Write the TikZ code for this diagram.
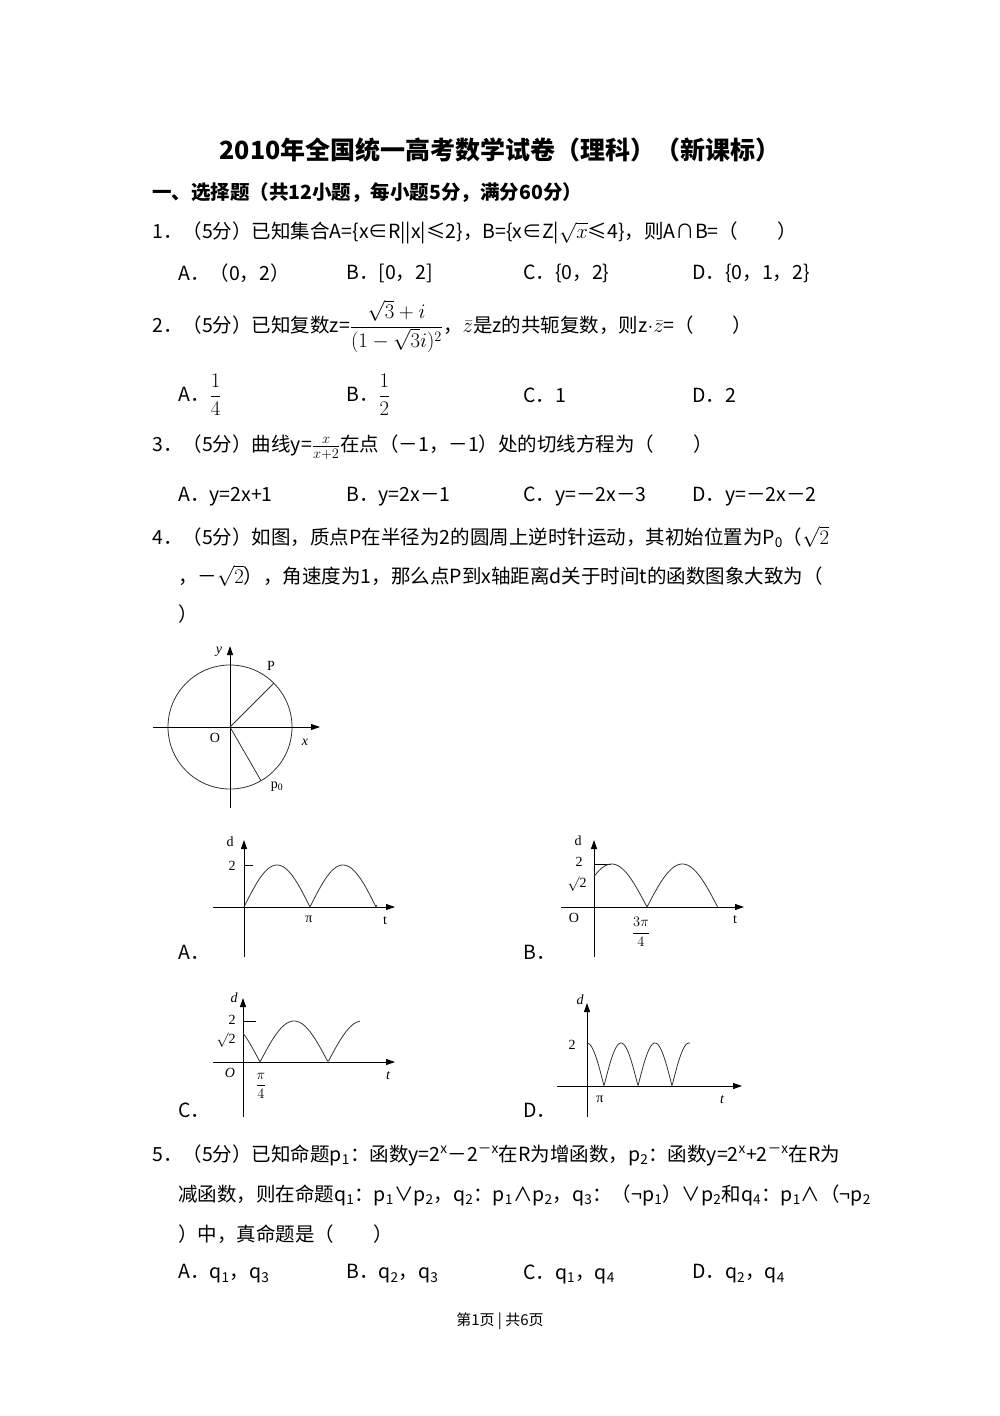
\documentclass[tikz,border=0pt]{standalone}
\usepackage{fontspec}
\setmainfont{Noto Sans CJK SC}
\newfontfamily\tms{Liberation Serif}
\usetikzlibrary{arrows.meta}
\tikzset{
 txt/.style={anchor=west,inner sep=0pt,font=\fontsize{19.5}{22}\selectfont},
 ax/.style={-{Triangle[length=9pt,width=6pt]},line width=0.9pt},
 crv/.style={line width=0.8pt,gray!40!black},
 gl/.style={inner sep=0pt,font=\tms\fontsize{14}{15}\selectfont},
 gli/.style={inner sep=0pt,font=\tms\itshape\fontsize{14}{15}\selectfont},
}
\newcommand{\sbs}[1]{\textsubscript{#1}}
\newcommand{\sps}[1]{\textsuperscript{#1}}
\newcommand{\myfrac}[2]{{\displaystyle\frac{#1}{#2}}}
\begin{document}
\begin{tikzpicture}[x=1pt,y=-1pt]
\useasboundingbox (0,0) rectangle (1000,1416);
\fill[white] (0,0) rectangle (1000,1416);
\node[inner sep=0pt,font=\bfseries\fontsize{25}{28}\selectfont] (title) at (500,150) {2010年全国统一高考数学试卷（理科）（新课标）};
\node[txt,font=\bfseries\fontsize{19.5}{22}\selectfont] (sec) at (152,193) {一、选择题（共12小题，每小题5分，满分60分）};
% Q1
\node[txt] (q1) at (152,233) {1．（5分）已知集合A=\{x∈R||x|≤2\}，B=\{x∈Z|$\sqrt{x}$≤4\}，则A∩B=（\hspace{2em}）};
\node[txt] (q1a) at (178,273) {A．（0，2）};
\node[txt] (q1b) at (346,273) {B．[0，2]};
\node[txt] (q1c) at (523,273) {C．\{0，2\}};
\node[txt] (q1d) at (692,273) {D．\{0，1，2\}};
% Q2
\node[txt] (q2) at (152,326) {2．（5分）已知复数z=$\myfrac{\sqrt{3}+i}{(1-\sqrt{3}i)^{2}}$，$\bar{z}$是z的共轭复数，则z$\cdot\bar{z}$=（\hspace{2em}）};
\node[txt] (q2a) at (178,395) {A．$\myfrac{1}{4}$};
\node[txt] (q2b) at (346,395) {B．$\myfrac{1}{2}$};
\node[txt] (q2c) at (523,395) {C．1};
\node[txt] (q2d) at (692,395) {D．2};
% Q3
\node[txt] (q3) at (152,447) {3．（5分）曲线y=$\frac{x}{x+2}$在点（－1，－1）处的切线方程为（\hspace{2em}）};
\node[txt] (q3a) at (178,497) {A．y=2x+1};
\node[txt] (q3b) at (346,497) {B．y=2x－1};
\node[txt] (q3c) at (523,497) {C．y=－2x－3};
\node[txt] (q3d) at (692,497) {D．y=－2x－2};
% Q4
\node[txt] (q4) at (152,537) {4．（5分）如图，质点P在半径为2的圆周上逆时针运动，其初始位置为P\sbs{0}（$\sqrt{2}$};
\node[txt] (q4l2) at (178,576) {，－$\sqrt{2}$），角速度为1，那么点P到x轴距离d关于时间t的函数图象大致为（};
\node[txt] (q4l3) at (178,614) {）};
% circle figure
\coordinate (O) at (230,727);
\draw[line width=0.8pt,gray!40!black] (O) circle (62);
\draw[ax] (153,727) -- (320,727);
\draw[ax] (230,808) -- (230,646);
\draw[crv] (O) -- ++(60:62) coordinate (P);
\draw[crv] (O) -- ++(-45:62) coordinate (P0);
\node[gl] (lO) at (215,738) {O};
\node[gli] (lx) at (305,742) {x};
\node[gli] (ly) at (219,652) {y};
\node[gl] (lP) at (271,666) {P};
\node[gl] (lP0) at (277,787) {p\textsubscript{0}};
% Graph A
\draw[ax] (213,907) -- (395,907);
\draw[ax] (244,957) -- (244,840);
\draw[line width=0.8pt] (244,865) -- (253,865);
\draw[crv] plot[domain=0:133,samples=120] ({244+\x},{907-42*abs(sin(\x/66*180))});
\node[gl] at (230,842) {d};
\node[gl] at (232,866) {2};
\node[gl] at (309,919) {π};
\node[gl] at (385,921) {t};
\node[txt] (ga) at (178,952) {A．};
% Graph B
\draw[ax] (561,907) -- (744,907);
\draw[ax] (594,957) -- (594,840);
\draw[line width=0.8pt] (594,864) -- (611,864);
\draw[crv] plot[domain=0:123.6,samples=120] ({594+\x},{907-43*abs(sin(\x/53*135+45))});
\node[gl] at (578,841) {d};
\node[gl] at (579,862) {2};
\node[gl] at (577,884) {$\surd$2};
\node[gl] at (574,918) {O};
\node[gl] at (641,932) {$\myfrac{3\pi}{4}$};
\node[gl] at (735,920) {t};
\node[txt] (gb) at (523,952) {B．};
% Graph C
\draw[ax] (213,1062) -- (395,1062);
\draw[ax] (243,1117) -- (243,998);
\draw[line width=0.8pt] (243,1021) -- (256,1021);
\draw[crv] plot[domain=0:117,samples=120] ({243+\x},{1062-41*abs(sin(\x/17*45-45))});
\node[gli] at (234,998) {d};
\node[gl] at (232,1020) {2};
\node[gl] at (226,1040) {$\surd$2};
\node[gli] at (230,1073) {O};
\node[gl] at (261,1086) {$\myfrac{\pi}{4}$};
\node[gli] at (388,1076) {t};
\node[txt] (gc) at (178,1110) {C．};
% Graph D
\draw[ax] (557,1086) -- (742,1086);
\draw[ax] (587,1117) -- (587,1003);
\draw[crv] plot[domain=0:103,samples=160] ({587+\x},{1086-43*abs(cos(\x/17*90))});
\node[gli] at (580,1000) {d};
\node[gl] at (572,1045) {2};
\node[gl] at (600,1099) {π};
\node[gli] at (722,1100) {t};
\node[txt] (gd) at (523,1110) {D．};
% Q5
\node[txt] (q5) at (152,1155) {5．（5分）已知命题p\sbs{1}：函数y=2\sps{x}－2\sps{－x}在R为增函数，p\sbs{2}：函数y=2\sps{x}+2\sps{－x}在R为};
\node[txt] (q5l2) at (178,1195) {减函数，则在命题q\sbs{1}：p\sbs{1}∨p\sbs{2}，q\sbs{2}：p\sbs{1}∧p\sbs{2}，q\sbs{3}：（¬p\sbs{1}）∨p\sbs{2}和q\sbs{4}：p\sbs{1}∧（¬p\sbs{2}};
\node[txt] (q5l3) at (178,1234) {）中，真命题是（\hspace{2em}）};
\node[txt] (q5a) at (178,1274) {A．q\sbs{1}，q\sbs{3}};
\node[txt] (q5b) at (346,1274) {B．q\sbs{2}，q\sbs{3}};
\node[txt] (q5c) at (523,1274) {C．q\sbs{1}，q\sbs{4}};
\node[txt] (q5d) at (692,1274) {D．q\sbs{2}，q\sbs{4}};
\node[inner sep=0pt,font=\fontsize{15}{17}\selectfont] (foot) at (500,1321) {第1页 | 共6页};
\end{tikzpicture}
\end{document}
